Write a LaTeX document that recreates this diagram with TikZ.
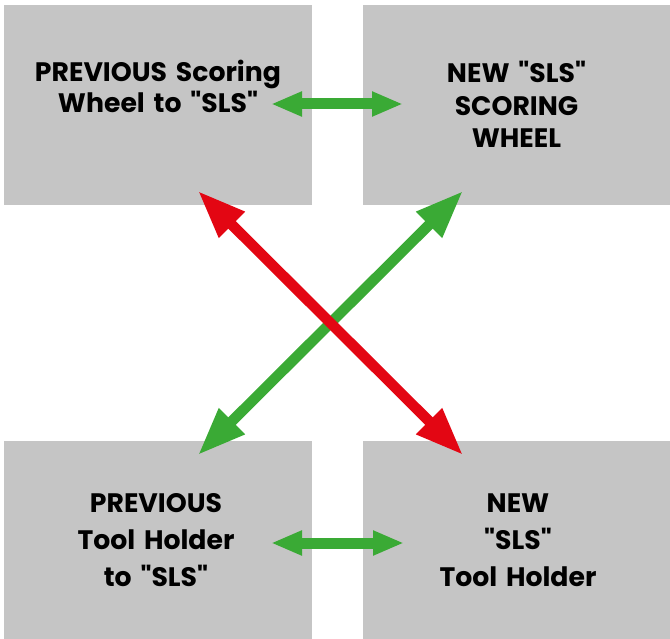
\documentclass[tikz,border=0pt]{standalone}
\usepackage{fontspec}
\setmainfont{Poppins}
\usetikzlibrary{arrows.meta}
\definecolor{boxgray}{HTML}{C5C5C5}
\definecolor{agreen}{HTML}{3AAA35}
\definecolor{ared}{HTML}{E30613}
\newcommand{\qq}{\textquotedbl}
\begin{document}
\begin{tikzpicture}[x=1pt,y=-1pt,
  panel/.style={fill=boxgray, draw=none, inner sep=0pt, minimum width=#1, anchor=north west},
  label/.style={text width=300pt, align=center, anchor=base, inner sep=0pt,
    font=\bfseries\fontsize{26.7}{#1}\selectfont},
  harrow/.style={agreen, line width=11pt,
    {Triangle[length=31pt,width=23pt]}-{Triangle[length=31pt,width=23pt]}},
  darrow/.style={line width=10.5pt,
    {Triangle[length=48pt,width=34pt]}-{Triangle[length=48pt,width=34pt]}}]
\useasboundingbox (0,0) rectangle (670,639);
\node[panel=308pt, minimum height=200pt] (tl) at (4,5) {};
\node[panel=307pt, minimum height=200pt] (tr) at (363,5) {};
\node[panel=308pt, minimum height=198pt] (bl) at (4,441) {};
\node[panel=307pt, minimum height=198pt] (br) at (363,441) {};
\node[label=31pt] (tltext) at (158,82) {PREVIOUS Scoring\\Wheel to \qq SLS\qq};
\node[label=32.5pt] (trtext) at (516.5,83) {NEW \qq SLS\qq\\SCORING\\WHEEL};
\node[label=37pt] (bltext) at (156,512) {PREVIOUS\\Tool Holder\\to \qq SLS\qq};
\node[label=37pt] (brtext) at (518,512) {NEW\\\qq SLS\qq\\Tool Holder};
\coordinate (h1a) at (271,104);
\coordinate (h1b) at (403,104);
\coordinate (h2a) at (271,543);
\coordinate (h2b) at (404,543);
\coordinate (r1) at (198,191);
\coordinate (r2) at (463,455);
\coordinate (g1) at (198,455);
\coordinate (g2) at (463,191);
\draw[harrow] (h1a) -- (h1b);
\draw[harrow] (h2a) -- (h2b);
\draw[darrow, agreen] (g1) -- (g2);
\draw[darrow, ared] (r1) -- (r2);
\end{tikzpicture}
\end{document}
